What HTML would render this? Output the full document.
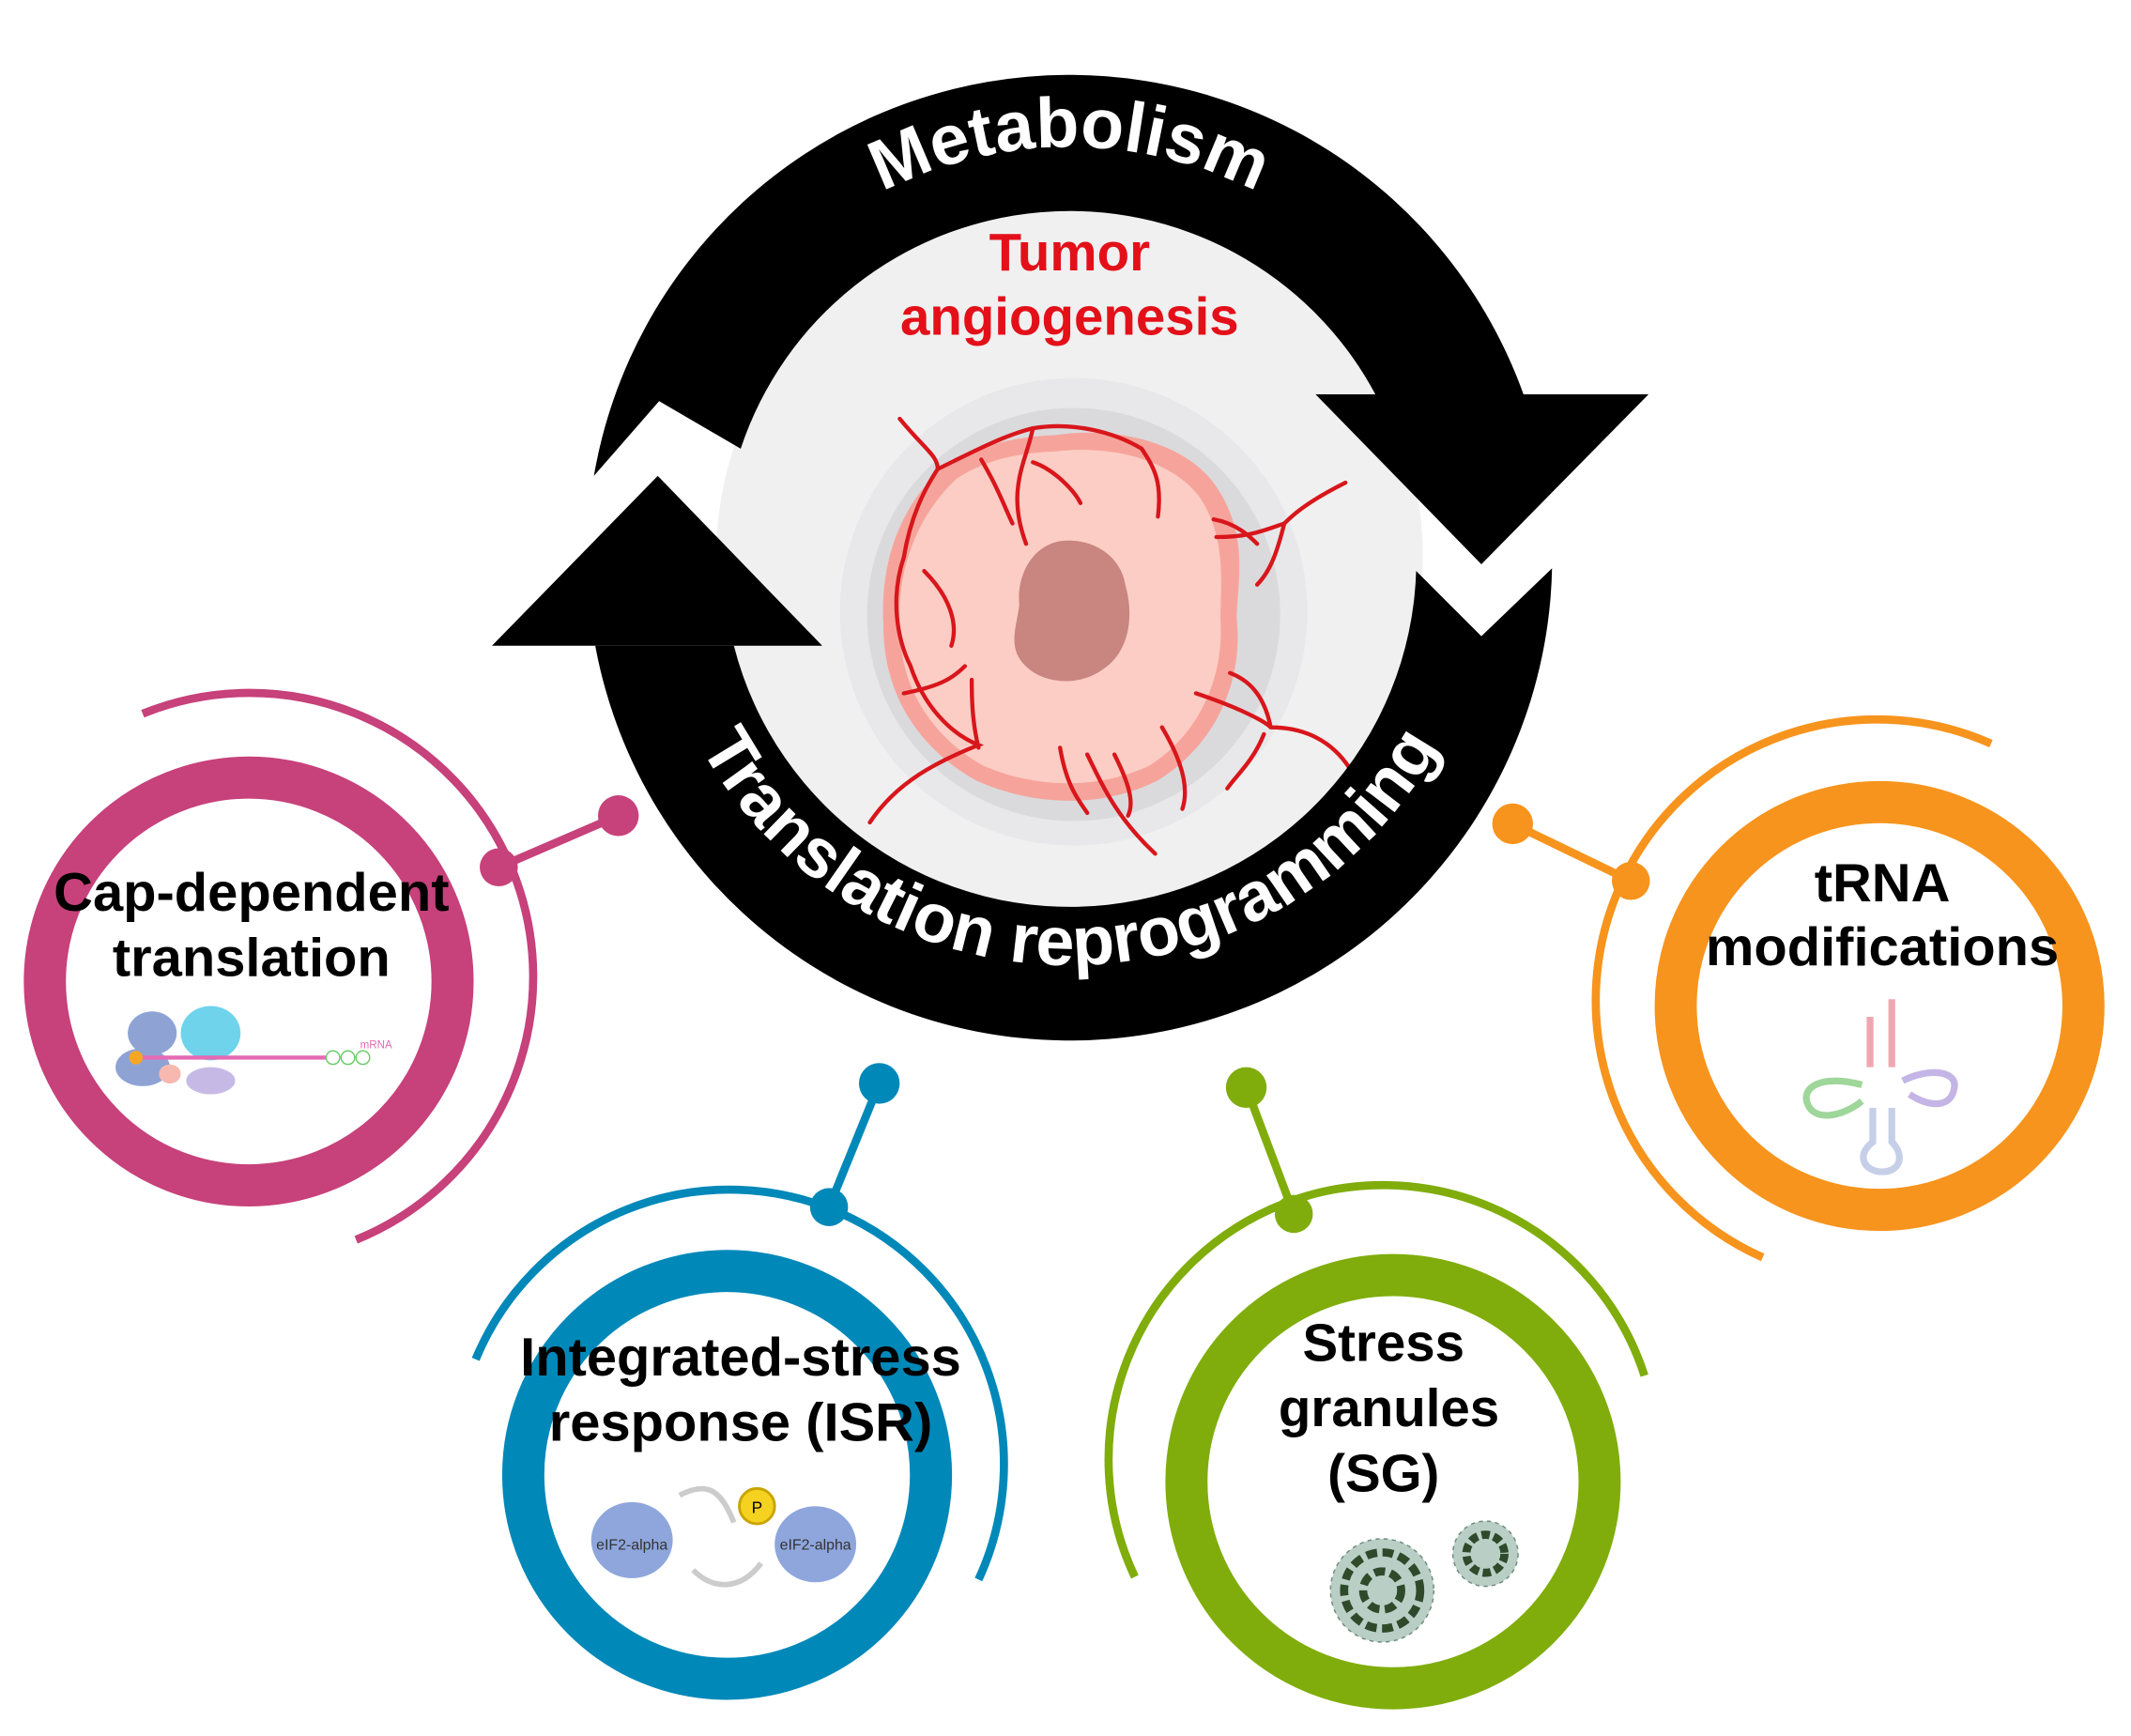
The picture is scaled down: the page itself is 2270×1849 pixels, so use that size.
<!DOCTYPE html>
<html><head><meta charset="utf-8"><style>html,body{margin:0;padding:0;background:#fff}svg{display:block}</style></head>
<body>
<svg width="2270" height="1849" viewBox="0 0 1568 1277" xmlns="http://www.w3.org/2000/svg" font-family="'Liberation Sans', sans-serif">
<rect width="1568" height="1277" fill="#fff"/>
<!-- inner disc -->
<circle cx="787" cy="410" r="260" fill="#f0f0f0"/>
<circle cx="790" cy="450" r="172" fill="#e8e8ea"/>
<circle cx="790" cy="452" r="152" fill="#dadadd"/>
<!-- tumor -->
<path d="M777,320 C822,313 874,326 895,358 C920,395 910,430 910,455 C915,502 894,548 852,574 C811,595 760,593 718,574 C677,551 650,512 650,460 C647,408 666,367 697,341 C723,326 750,321 777,320Z" fill="#f6a49b"/>
<path d="M777,332 C818,327 862,338 883,366 C903,397 898,430 898,455 C901,499 882,540 846,563 C808,581 762,580 723,563 C686,542 662,506 662,460 C660,414 678,376 704,352 C727,337 752,333 777,332Z" fill="#fbcdc5"/>
<path d="M780,398 C805,395 825,410 828,430 C835,455 830,480 812,492 C795,505 770,503 757,492 C740,478 748,462 750,445 C748,425 758,402 780,398Z" fill="#c9857f"/>
<g fill="none" stroke="#d8161b" stroke-width="3" stroke-linecap="round">
<path d="M662,308 C680,330 690,335 690,345 C680,360 670,380 665,410 C655,440 660,470 670,490 C680,520 700,540 720,548 C690,560 660,575 640,605"/>
<path d="M690,345 C720,330 740,320 760,315 C790,310 820,318 840,330 C850,345 855,355 852,380"/>
<path d="M722,338 C735,360 740,375 745,385"/>
<path d="M760,315 C755,340 740,360 755,400"/>
<path d="M760,340 C775,345 790,360 795,370"/>
<path d="M990,355 C960,370 950,380 945,385 C930,390 920,395 895,395 M945,385 C940,405 935,420 925,430 M893,382 C910,385 920,395 925,400"/>
<path d="M880,510 C910,520 930,530 935,535 C960,535 980,545 993,565 M935,535 C930,510 918,500 905,495 M930,540 C922,560 910,570 903,580"/>
<path d="M665,510 C690,505 700,500 710,490 M720,550 C715,530 715,510 715,500"/>
<path d="M800,555 C810,575 820,600 850,628 M780,550 C785,580 795,590 800,598 M820,555 C830,575 835,590 830,600 M855,535 C870,560 875,580 870,595"/>
<path d="M680,420 C700,440 705,460 700,475"/>
</g>
<!-- black ring arrows -->
<path d="M437,350 A355 355 0 0 1 1121,290 L1012,290 A255 255 0 0 0 545,330 L485,295 Z" fill="#000"/>
<path d="M968,290 L1213,290 L1090,415 Z" fill="#000"/>
<path d="M1142,418 A355 355 0 0 1 438,475 L540,475 A255 255 0 0 0 1042,420 L1090,468 Z" fill="#000"/>
<path d="M362,475 L605,475 L484,350 Z" fill="#000"/>
<defs>
<path id="topArc" d="M485,410 A302 302 0 0 1 1089,410"/>
<path id="botArc" d="M477,400 A310 310 0 0 0 1097,400"/>
</defs>
<text font-size="52" font-weight="bold" fill="#fff" text-anchor="middle"><textPath href="#topArc" startOffset="50%">Metabolism</textPath></text>
<text font-size="51" font-weight="bold" fill="#fff" text-anchor="middle"><textPath href="#botArc" startOffset="50%">Translation reprogramming</textPath></text>
<text x="787" y="199" font-size="39" font-weight="bold" fill="#e3101a" text-anchor="middle">Tumor</text>
<text x="787" y="246" font-size="39" font-weight="bold" fill="#e3101a" text-anchor="middle">angiogenesis</text>

<!-- pink -->
<circle cx="183" cy="722" r="150" fill="none" stroke="#c7417b" stroke-width="31"/>
<path d="M105,525 A207 207 0 0 1 262,912" fill="none" stroke="#c7417b" stroke-width="6"/>
<line x1="367" y1="638" x2="455" y2="600" stroke="#c7417b" stroke-width="6"/>
<circle cx="367" cy="638" r="14" fill="#c7417b"/><circle cx="455" cy="600" r="15" fill="#c7417b"/>
<text x="185" y="670" font-size="40" font-weight="bold" text-anchor="middle">Cap-dependent</text>
<text x="185" y="718" font-size="40" font-weight="bold" text-anchor="middle">translation</text>
<g>
<ellipse cx="112" cy="760" rx="18" ry="16" fill="#8ea3d4"/>
<ellipse cx="105" cy="785" rx="20" ry="14" fill="#8ea3d4"/>
<ellipse cx="155" cy="760" rx="22" ry="20" fill="#6fd3ec"/>
<ellipse cx="155" cy="795" rx="18" ry="10" fill="#c7b9e6"/>
<ellipse cx="125" cy="790" rx="8" ry="7" fill="#f7b8b0"/>
<circle cx="100" cy="778" r="5" fill="#f5a623"/>
<line x1="105" y1="778" x2="240" y2="778" stroke="#e46bb5" stroke-width="3"/>
<circle cx="245" cy="778" r="5" fill="none" stroke="#6ccb6c"/><circle cx="256" cy="778" r="5" fill="none" stroke="#6ccb6c"/><circle cx="267" cy="778" r="5" fill="none" stroke="#6ccb6c"/>
<text x="265" y="771" font-size="8" fill="#e46bb5">mRNA</text>
</g>

<!-- orange -->
<circle cx="1383" cy="740" r="150" fill="none" stroke="#f7941d" stroke-width="31"/>
<path d="M1465,547 A205 205 0 0 0 1297,925" fill="none" stroke="#f7941d" stroke-width="6"/>
<line x1="1200" y1="648" x2="1113" y2="606" stroke="#f7941d" stroke-width="6"/>
<circle cx="1200" cy="648" r="14" fill="#f7941d"/><circle cx="1113" cy="606" r="15" fill="#f7941d"/>
<text x="1385" y="663" font-size="40" font-weight="bold" text-anchor="middle">tRNA</text>
<text x="1385" y="710" font-size="40" font-weight="bold" text-anchor="middle">modifications</text>
<g fill="none" stroke-width="5">
<path d="M1376,748 V785 M1392,735 V785" stroke="#f0a6b0"/>
<path d="M1370,798 C1340,790 1325,800 1330,812 C1335,825 1355,822 1370,810" stroke="#9fd69a"/>
<path d="M1400,795 C1420,785 1440,788 1438,800 C1436,815 1420,815 1405,805" stroke="#c4b5e6"/>
<path d="M1378,815 V840 C1365,850 1372,862 1385,862 C1398,862 1402,850 1392,840 V815" stroke="#c6cfe8"/>
</g>

<!-- blue -->
<circle cx="535" cy="1085" r="150" fill="none" stroke="#0088b9" stroke-width="31"/>
<path d="M350,1000 A202 202 0 1 1 720,1162" fill="none" stroke="#0088b9" stroke-width="6"/>
<line x1="610" y1="888" x2="647" y2="797" stroke="#0088b9" stroke-width="6"/>
<circle cx="610" cy="888" r="14" fill="#0088b9"/><circle cx="647" cy="797" r="15" fill="#0088b9"/>
<text x="545" y="1012" font-size="40" font-weight="bold" text-anchor="middle">Integrated-stress</text>
<text x="545" y="1060" font-size="40" font-weight="bold" text-anchor="middle">response (ISR)</text>
<ellipse cx="465" cy="1133" rx="30" ry="28" fill="#8ea6dc"/>
<ellipse cx="600" cy="1136" rx="30" ry="28" fill="#8ea6dc"/>
<circle cx="557" cy="1108" r="13" fill="#f5d21f" stroke="#c9a400" stroke-width="2"/>
<text x="557" y="1113" font-size="12" text-anchor="middle">P</text>
<path d="M500,1100 C520,1090 530,1095 540,1120" fill="none" stroke="#ccc" stroke-width="4"/>
<path d="M560,1150 C545,1170 525,1170 510,1155" fill="none" stroke="#ccc" stroke-width="4"/>
<text x="465" y="1140" font-size="11" text-anchor="middle" fill="#333">eIF2-alpha</text>
<text x="600" y="1140" font-size="11" text-anchor="middle" fill="#333">eIF2-alpha</text>

<!-- green -->
<circle cx="1025" cy="1090" r="152" fill="none" stroke="#80ad0c" stroke-width="31"/>
<path d="M835,1160 A202 202 0 1 1 1210,1012" fill="none" stroke="#80ad0c" stroke-width="6"/>
<line x1="952" y1="893" x2="917" y2="800" stroke="#80ad0c" stroke-width="6"/>
<circle cx="952" cy="893" r="14" fill="#80ad0c"/><circle cx="917" cy="800" r="15" fill="#80ad0c"/>
<text x="1018" y="1001" font-size="39" font-weight="bold" text-anchor="middle">Stress</text>
<text x="1022" y="1049" font-size="39" font-weight="bold" text-anchor="middle">granules</text>
<text x="1018" y="1097" font-size="39" font-weight="bold" text-anchor="middle">(SG)</text>
<circle cx="1017" cy="1170" r="38" fill="#b9cfc6" stroke="#6f8a7e" stroke-dasharray="3 3"/>
<circle cx="1017" cy="1170" r="28" fill="none" stroke="#2f4a2a" stroke-width="6" stroke-dasharray="8 4"/>
<circle cx="1017" cy="1170" r="14" fill="none" stroke="#2f4a2a" stroke-width="6" stroke-dasharray="8 4"/>
<circle cx="1093" cy="1143" r="24" fill="#b9cfc6" stroke="#6f8a7e" stroke-dasharray="3 3"/>
<circle cx="1093" cy="1143" r="14" fill="none" stroke="#2f4a2a" stroke-width="6" stroke-dasharray="6 3"/>
</svg>
</body></html>
